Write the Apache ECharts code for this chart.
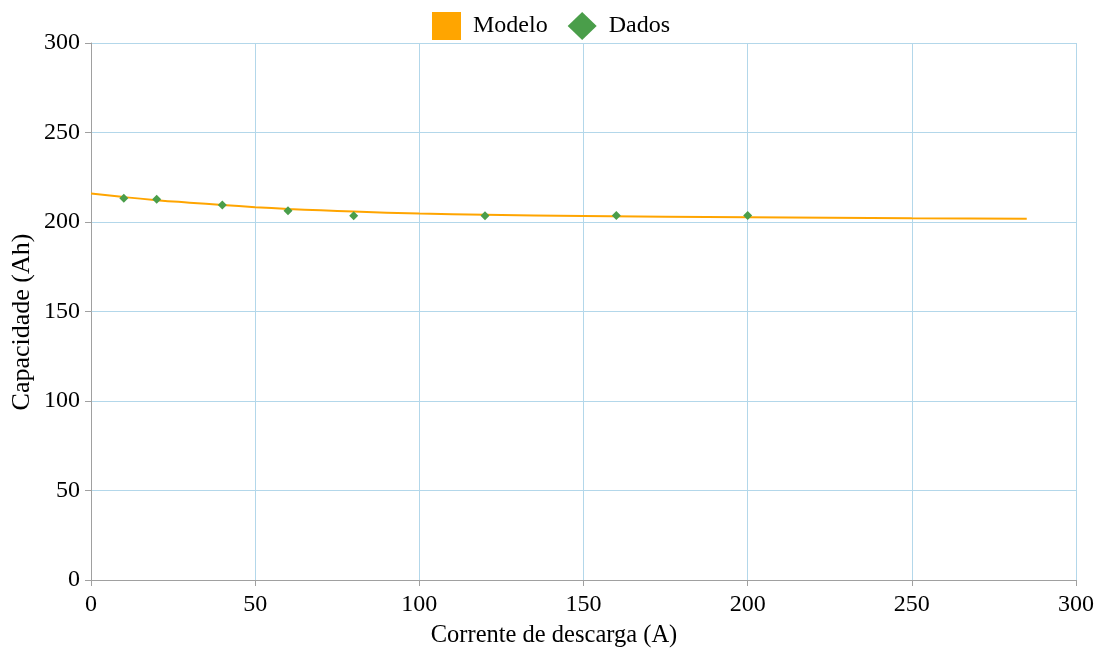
<!DOCTYPE html>
<html>
<head>
<meta charset="utf-8">
<script src="https://cdn.jsdelivr.net/npm/echarts@6/dist/echarts.min.js"></script>
<style>
  html, body { margin: 0; padding: 0; background: #fff; }
  #chart { width: 1102px; height: 649px; }
</style>
</head>
<body>
<div id="chart"></div>
<script>
// curva do modelo
const modeloX = [0, 10, 20, 30, 40, 50, 60, 70, 80, 100, 120, 150, 200, 250, 285];
const modeloY = [215.9, 213.9, 212.2, 210.8, 209.5, 208.3, 207.3, 206.5, 205.8, 204.7, 204.0, 203.3, 202.6, 202.1, 201.8];
// pontos medidos
const dadosX = [10, 20, 40, 60, 80, 120, 160, 200];
const dadosY = [213.3, 212.7, 209.5, 206.3, 203.5, 203.5, 203.7, 203.7];

const tituloX = 'Corrente de descarga (A)';
const tituloY = 'Capacidade (Ah)';

const fonte = '"Liberation Serif", "Times New Roman", serif';
const corGrade = '#b3d7ea';
const corEixo = '#a0a0a0';

const chart = echarts.init(document.getElementById('chart'));
chart.setOption({
  animation: false,
  textStyle: { fontFamily: fonte },
  legend: {
    top: 7,
    left: 'center',
    itemGap: 20,
    itemWidth: 29,
    itemHeight: 28,
    textStyle: { fontFamily: fonte, fontSize: 24, color: '#000', padding: [0, 0, 0, 7] },
    data: [
      { name: 'Modelo', icon: 'rect' },
      { name: 'Dados', icon: 'diamond' }
    ]
  },
  // títulos dos eixos centrados na página, como no original
  graphic: [
    {
      type: 'text',
      x: 554, y: 636,
      style: { text: tituloX, font: '24.5px ' + fonte, fill: '#000', align: 'center', verticalAlign: 'middle' }
    },
    {
      type: 'text',
      x: 22, y: 322,
      rotation: Math.PI / 2,
      style: { text: tituloY, font: '26px ' + fonte, fill: '#000', align: 'center', verticalAlign: 'middle' }
    }
  ],
  grid: { left: 91, right: 26, top: 43, bottom: 69, containLabel: false, outerBoundsMode: 'none' },
  xAxis: {
    type: 'value',
    min: 0, max: 300, interval: 50,
    axisLine: { show: true, lineStyle: { color: corEixo } },
    axisTick: { show: true, length: 6, lineStyle: { color: corEixo } },
    axisLabel: { fontFamily: fonte, fontSize: 24, color: '#000', margin: 13 },
    splitLine: { show: true, lineStyle: { color: corGrade } }
  },
  yAxis: {
    type: 'value',
    min: 0, max: 300, interval: 50,
    axisLine: { show: true, lineStyle: { color: corEixo } },
    axisTick: { show: true, length: 6, lineStyle: { color: corEixo } },
    axisLabel: { fontFamily: fonte, fontSize: 24, color: '#000', margin: 11 },
    splitLine: { show: true, lineStyle: { color: corGrade } }
  },
  series: [
    {
      name: 'Modelo',
      type: 'line',
      smooth: true,
      showSymbol: false,
      symbol: 'none',
      color: '#FFA500',
      lineStyle: { width: 2, color: '#FFA500' },
      data: modeloX.map((x, i) => [x, modeloY[i]]),
      z: 2
    },
    {
      name: 'Dados',
      type: 'scatter',
      symbol: 'diamond',
      symbolSize: 9,
      color: '#4a9e4a',
      itemStyle: { color: '#4a9e4a', opacity: 1 },
      data: dadosX.map((x, i) => [x, dadosY[i]]),
      z: 3
    }
  ]
});
</script>
</body>
</html>
